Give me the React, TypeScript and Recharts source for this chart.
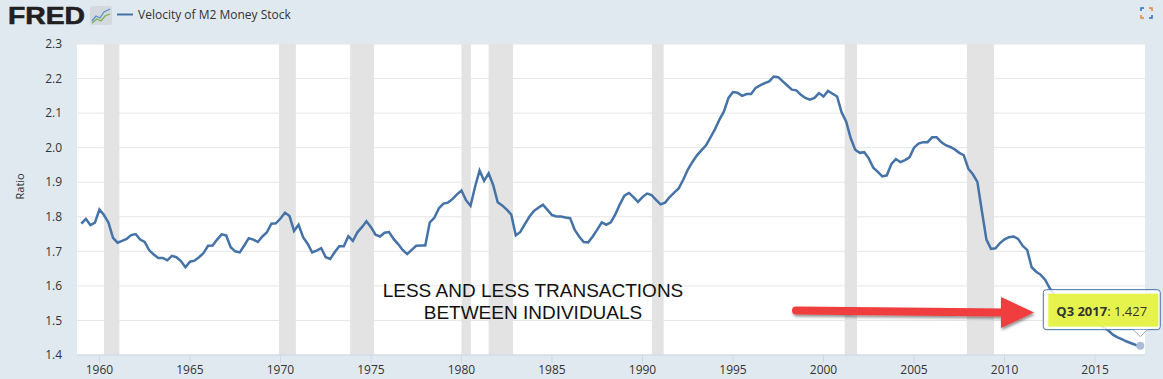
import React from 'react';
import { LineChart, Line, XAxis, YAxis, CartesianGrid, ReferenceArea, ReferenceDot } from 'recharts';

// Velocity of M2 money stock, quarterly, first value is 1959 Q1
const START_YEAR = 1959;

const v1959to1969 = [
  1.780, 1.794, 1.776, 1.783, 1.821, 1.805, 1.783, 1.739, 1.725, 1.730, 1.736, 1.747,
  1.750, 1.734, 1.727, 1.703, 1.691, 1.681, 1.681, 1.674, 1.687, 1.683, 1.672, 1.654,
  1.670, 1.673, 1.683, 1.695, 1.716, 1.717, 1.734, 1.749, 1.746, 1.712, 1.700, 1.697,
  1.717, 1.738, 1.734, 1.727, 1.743, 1.755, 1.780, 1.781,
];
const v1970s = [
  1.795, 1.812, 1.802, 1.759, 1.777, 1.741, 1.722, 1.697, 1.702, 1.709, 1.683, 1.678,
  1.698, 1.715, 1.715, 1.744, 1.730, 1.755, 1.770, 1.787, 1.770, 1.748, 1.743, 1.754,
  1.756, 1.736, 1.721, 1.704, 1.692, 1.704, 1.716, 1.717, 1.717, 1.784, 1.797, 1.824,
  1.838, 1.841, 1.851, 1.865,
];
const v1980s = [
  1.876, 1.848, 1.832, 1.887, 1.934, 1.904, 1.926, 1.892, 1.842, 1.833, 1.821, 1.806,
  1.746, 1.756, 1.779, 1.800, 1.817, 1.826, 1.835, 1.820, 1.805, 1.801, 1.801, 1.798,
  1.796, 1.763, 1.743, 1.727, 1.726, 1.743, 1.763, 1.784, 1.777, 1.784, 1.807, 1.836,
  1.861, 1.869, 1.857, 1.843,
];
const v1990s = [
  1.857, 1.867, 1.863, 1.849, 1.836, 1.841, 1.857, 1.870, 1.882, 1.907, 1.936, 1.958,
  1.977, 1.992, 2.006, 2.029, 2.053, 2.081, 2.105, 2.144, 2.161, 2.159, 2.150, 2.155,
  2.155, 2.173, 2.180, 2.187, 2.192, 2.206, 2.204, 2.192, 2.180, 2.168, 2.166, 2.153,
  2.144, 2.139, 2.144, 2.158,
];
const v2000s = [
  2.148, 2.164, 2.156, 2.148, 2.102, 2.076, 2.028, 1.994, 1.985, 1.987, 1.969, 1.942,
  1.930, 1.917, 1.920, 1.953, 1.967, 1.958, 1.964, 1.972, 2.000, 2.012, 2.016, 2.016,
  2.030, 2.030, 2.016, 2.007, 2.002, 1.995, 1.985, 1.978, 1.939, 1.923, 1.901, 1.816,
  1.734, 1.707, 1.709, 1.724,
];
const v2010s = [
  1.735, 1.741, 1.743, 1.736, 1.716, 1.704, 1.654, 1.641, 1.632, 1.617, 1.593, 1.573,
  1.565, 1.556, 1.547, 1.539, 1.530, 1.521, 1.513, 1.504, 1.496, 1.487, 1.479, 1.470,
  1.458, 1.451, 1.445, 1.439, 1.434, 1.429, 1.427,
];

const yTicks = [1.4, 1.5, 1.6, 1.7, 1.8, 1.9, 2.0, 2.1, 2.2, 2.3];
const xTicks = [1960, 1965, 1970, 1975, 1980, 1985, 1990, 1995, 2000, 2005, 2010, 2015];

// NBER recessions (start, end) in fractional years
const recessions = [
  [1960.25, 1961.1], [1969.92, 1970.85], [1973.85, 1975.17], [1980.0, 1980.52],
  [1981.5, 1982.85], [1990.52, 1991.17], [2001.17, 2001.85], [2007.92, 2009.42],
];

const values = [...v1959to1969, ...v1970s, ...v1980s, ...v1990s, ...v2000s, ...v2010s];
const data = values.map((v, i) => ({
  t: START_YEAR + i * 0.25,
  v,
  label: `Q${(i % 4) + 1} ${START_YEAR + Math.floor(i / 4)}`,
}));
const last = data[data.length - 1];

const BLUE = '#4572a7';
const FONT = '"Open Sans", sans-serif';

const TooltipMarker = ({ cx, cy }: { cx: number; cy: number }) => (
  <g>
    <circle cx={cx} cy={cy} r={4} fill="#a9bcd8" />
    <rect x={cx - 97} y={cy - 56} width={117} height={40} rx={3} fill="rgba(255,255,255,0.85)" stroke={BLUE} strokeWidth={1} />
    <path d={`M${cx - 7},${cy - 16} L${cx},${cy - 9} L${cx + 7},${cy - 16}`} fill="#fff" stroke="#9aa9bb" strokeWidth={1} />
    <rect x={cx - 92} y={cy - 52} width={110} height={33} fill="#e4f23a" opacity={0.9} />
    <text x={cx - 84} y={cy - 30} fontFamily={FONT} fontSize={13} fill="#333">
      <tspan fontWeight="bold">{last.label}</tspan>: {last.v.toFixed(3)}
    </text>
  </g>
);

const Header = () => (
  <svg width={1163} height={379} style={{ position: 'absolute', left: 0, top: 0, pointerEvents: 'none' }}>
    <defs>
      <filter id="arrowShadow" x="-10%" y="-50%" width="120%" height="200%">
        <feDropShadow dx={1} dy={2} stdDeviation={1.5} floodColor="#000" floodOpacity={0.45} />
      </filter>
    </defs>
    {/* FRED logo */}
    <text x={8} y={24} fontFamily='"Liberation Sans", Arial, sans-serif' fontWeight="bold" fontSize={24}
      textLength={77} lengthAdjust="spacingAndGlyphs" fill="#231f20" stroke="#231f20" strokeWidth={0.6}>FRED</text>
    <rect x={90} y={6} width={22} height={19} rx={2} fill="#d3d9df" />
    <polyline points="92,21 96,16 100,18 104,12 110,9" fill="none" stroke="#5b8ec9" strokeWidth={1.3} />
    <polyline points="92,23 97,19 101,21 105,16 110,14" fill="none" stroke="#79b04a" strokeWidth={1.3} />
    {/* legend */}
    <line x1={117} y1={14.5} x2={133} y2={14.5} stroke={BLUE} strokeWidth={2} />
    <text x={138} y={19} fontFamily={FONT} fontSize={12} fill="#333">Velocity of M2 Money Stock</text>
    {/* fullscreen icon */}
    <g strokeWidth={1.5} fill="none">
      <path d="M1141,11 L1141,8 L1144,8" stroke="#2a6ebb" />
      <path d="M1149,8 L1152,8 L1152,11" stroke="#e8872b" />
      <path d="M1141,15 L1141,18 L1144,18" stroke="#e8872b" />
      <path d="M1149,18 L1152,18 L1152,15" stroke="#2a6ebb" />
    </g>
    {/* annotation */}
    <text x={533} y={297} textAnchor="middle" fontFamily='"Liberation Sans", Arial, sans-serif' fontSize={19} fill="#111">LESS AND LESS TRANSACTIONS</text>
    <text x={533} y={319} textAnchor="middle" fontFamily='"Liberation Sans", Arial, sans-serif' fontSize={19} fill="#111">BETWEEN INDIVIDUALS</text>
    <g filter="url(#arrowShadow)">
      <line x1={796} y1={310.5} x2={1004} y2={312.5} stroke="#f03c3c" strokeWidth={8} strokeLinecap="round" />
      <polygon points="1001,297 1034,312.5 1001,328" fill="#f03c3c" />
    </g>
  </svg>
);

export default function App() {
  return (
    <div style={{ position: 'absolute', left: 0, top: 0, width: 1163, height: 379, background: '#e1e9f0', overflow: 'hidden' }}>
      <LineChart width={1163} height={379} data={data} margin={{ top: 44, right: 18, bottom: 0, left: 0 }}>
        <CartesianGrid vertical={false} fill="#ffffff" stroke="#e6e6e6" strokeWidth={1} />
        {recessions.map(([a, b], i) => (
          <ReferenceArea key={i} x1={a} x2={b} fill="#e3e3e3" fillOpacity={1} stroke="none" ifOverflow="hidden" />
        ))}
        <XAxis
          dataKey="t"
          type="number"
          domain={[1958.76, 2017.76]}
          ticks={xTicks}
          allowDataOverflow
          height={24}
          stroke="#ccd6eb"
          tickSize={8}
          tickMargin={2}
          tick={{ fill: '#333', fontSize: 12, fontFamily: FONT }}
        />
        <YAxis
          type="number"
          domain={[1.4, 2.3]}
          ticks={yTicks}
          width={77}
          axisLine={false}
          tickLine={false}
          tickSize={0}
          tickMargin={15}
          tickFormatter={(v: number) => v.toFixed(1)}
          tick={{ fill: '#333', fontSize: 12, fontFamily: FONT }}
          label={{ value: 'Ratio', angle: -90, position: 'insideLeft', offset: 20, fill: '#333', fontSize: 11, fontFamily: FONT }}
        />
        <Line type="linear" dataKey="v" stroke={BLUE} strokeWidth={2.5} dot={false} isAnimationActive={false} />
        <ReferenceDot x={last.t} y={last.v} ifOverflow="visible" zIndex={2000}
          shape={(p: any) => <TooltipMarker cx={p.cx} cy={p.cy} />} />
      </LineChart>
      <Header />
    </div>
  );
}
